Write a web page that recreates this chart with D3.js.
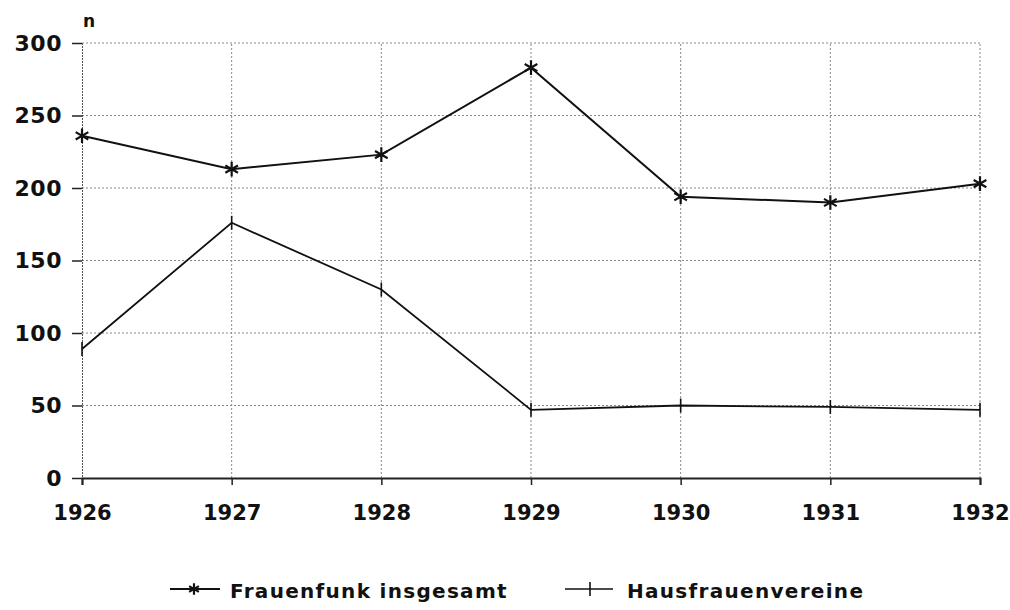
<!DOCTYPE html>
<html><head><meta charset="utf-8">
<script src="https://cdn.jsdelivr.net/npm/d3@7"></script>
<style>body{margin:0;background:#fff}svg{display:block}text{font-family:"DejaVu Sans",Arial,sans-serif;font-weight:bold;fill:#111}</style>
</head><body><svg id="c" width="1010" height="610"></svg>
<script>
const years = [1926, 1927, 1928, 1929, 1930, 1931, 1932];
const frauenfunk = [236, 213, 223, 283, 194, 190, 203];
const hausfrauen = [89, 176, 130, 47, 50, 49, 47];
const yTicks = [0, 50, 100, 150, 200, 250, 300];
const seriesNames = ["Frauenfunk insgesamt", "Hausfrauenvereine"];

const svg = d3.select("#c");
const x = d3.scaleLinear().domain([1926, 1932]).range([82, 980]);
const y = d3.scaleLinear().domain([0, 300]).range([478, 43]);

// grid
const g = svg.append("g");
g.selectAll(".hg").data(yTicks.filter(d => d > 0)).join("line")
  .attr("x1", x(1926)).attr("x2", x(1932)).attr("y1", d => y(d)).attr("y2", d => y(d))
  .attr("stroke", "#888").attr("stroke-width", 1).attr("stroke-dasharray", "2,2");
g.selectAll(".vg").data(years.slice(1)).join("line")
  .attr("x1", d => x(d)).attr("x2", d => x(d)).attr("y1", y(0)).attr("y2", y(300))
  .attr("stroke", "#888").attr("stroke-width", 1).attr("stroke-dasharray", "2,2");

// axes
const ya = svg.append("g").attr("transform", `translate(${x(1926)},0)`)
  .call(d3.axisLeft(y).tickValues(yTicks).tickSize(10).tickPadding(10));
ya.select(".domain").attr("stroke", "#555").attr("stroke-width", 1).attr("stroke-dasharray", "2,1");
ya.selectAll(".tick line").attr("stroke", "#222").attr("stroke-width", 1.5);
ya.selectAll("text").style("font-size", "22px").style("letter-spacing", "0.5px").attr("fill", "#111");

const xa = svg.append("g").attr("transform", `translate(0,${y(0)})`)
  .call(d3.axisBottom(x).tickValues(years).tickFormat(d3.format("d")).tickSize(7).tickPadding(20));
xa.select(".domain").attr("stroke", "#222").attr("stroke-width", 2);
xa.selectAll(".tick line").attr("stroke", "#222").attr("stroke-width", 1.5);
xa.selectAll("text").style("font-size", "21px").attr("fill", "#111");

svg.append("text").attr("x", 83).attr("y", 27).style("font-size", "17px").text("n");

// lines
const line = d3.line().x((d, i) => x(years[i])).y(d => y(d));
svg.append("path").datum(frauenfunk).attr("d", line).attr("fill", "none").attr("stroke", "#111").attr("stroke-width", 2);
svg.append("path").datum(hausfrauen).attr("d", line).attr("fill", "none").attr("stroke", "#111").attr("stroke-width", 1.8);

function drawStar(sel, cx, cy, sz) {
  const s = d3.symbol().type(d3.symbolAsterisk).size(sz);
  sel.append("path").attr("d", s()).attr("transform", `translate(${cx},${cy})`).attr("stroke", "#111").attr("stroke-width", 2.2).attr("fill", "none");
}
function drawPlus(sel, cx, cy, h) {
  sel.append("line").attr("x1", cx).attr("x2", cx).attr("y1", cy - h).attr("y2", cy + h).attr("stroke", "#111").attr("stroke-width", 1.6);
}
const mk = svg.append("g");
frauenfunk.forEach((v, i) => drawStar(mk, x(years[i]), y(v), 150));
hausfrauen.forEach((v, i) => drawPlus(mk, x(years[i]), y(v), 7));

// legend
const lg = svg.append("g");
lg.append("line").attr("x1", 170).attr("x2", 220).attr("y1", 589).attr("y2", 589).attr("stroke", "#111").attr("stroke-width", 2);
drawStar(lg, 194, 589, 90);
lg.append("text").attr("x", 230).attr("y", 598).style("font-size", "20px").style("letter-spacing", "1.3px").text(seriesNames[0]);
lg.append("line").attr("x1", 565).attr("x2", 613).attr("y1", 589).attr("y2", 589).attr("stroke", "#111").attr("stroke-width", 1.6);
drawPlus(lg, 590, 589, 7);
lg.append("text").attr("x", 627).attr("y", 598).style("font-size", "20px").style("letter-spacing", "1.3px").text(seriesNames[1]);
</script></body></html>
